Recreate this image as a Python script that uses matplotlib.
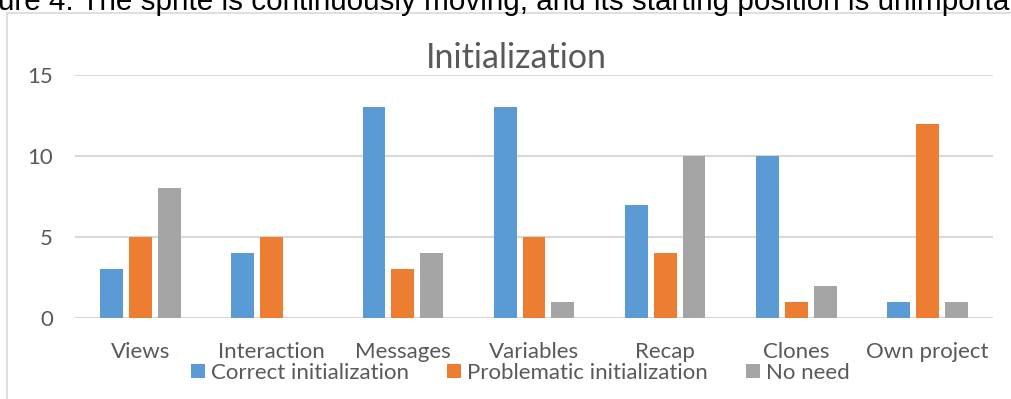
import numpy as np
import matplotlib.pyplot as plt
from matplotlib.patches import Rectangle

plt.rcParams['font.family'] = ['Lato', 'DejaVu Sans']

categories = ['Views', 'Interaction', 'Messages', 'Variables', 'Recap', 'Clones', 'Own project']
correct = [3, 4, 13, 13, 7, 10, 1]
problematic = [5, 5, 3, 5, 4, 1, 12]
no_need = [8, 0, 4, 1, 10, 2, 1]
series_names = ['Correct initialization', 'Problematic initialization', 'No need']
colors = ['#5b9bd5', '#ed7d31', '#a5a5a5']

fig = plt.figure(figsize=(10.12, 3.99), dpi=100)
W, H = 1012, 399

# caption line from the page above the chart
fig.text(-2 / W, 1 - 10 / H, 'ure 4. The sprite is continuously moving, and its starting position is unimportant',
         family=['Liberation Sans', 'DejaVu Sans'], fontsize=21.3, color='black', ha='left', va='baseline')

# chart frame
fig.patches.append(Rectangle((7 / W, -0.1), 1.2, 1 - 13 / H + 0.1, transform=fig.transFigure,
                             fill=False, edgecolor='#d9d9d9', linewidth=1.2))

ax = fig.add_axes([75 / W, 1 - 318 / H, (993 - 75) / W, (318 - 75) / H])
x = np.arange(len(categories))
width = 0.175
step = 0.22
for i, (vals, name, c) in enumerate(zip([correct, problematic, no_need], series_names, colors)):
    ax.bar(x + (i - 1) * step, vals, width, color=c, label=name, zorder=3)

ax.set_xlim(-0.5, len(categories) - 0.5)
ax.set_ylim(0, 15)
ax.set_yticks([0, 5, 10, 15])
ax.set_xticks(x)
ax.set_xticklabels(categories)
for s in ax.spines.values():
    s.set_visible(False)
ax.axhline(0, color='#d9d9d9', linewidth=1.5, zorder=2)
ax.yaxis.grid(True, color='#d9d9d9', linewidth=1.5, zorder=0)
ax.tick_params(axis='both', length=0, labelsize=16, colors='#595959')
ax.tick_params(axis='x', pad=17)
ax.tick_params(axis='y', pad=16)

fig.text(516 / W, 1 - 58 / H, 'Initialization', fontsize=24.5, color='#595959', ha='center', va='center')

ax.legend(loc='upper center', bbox_to_anchor=(0.485, -0.185), ncol=3, frameon=False,
          fontsize=16, labelcolor='#595959', handlelength=0.64, handleheight=0.64,
          handletextpad=0.27, columnspacing=1.7, borderpad=0, borderaxespad=0)

fig.savefig('out.png', dpi=100)
